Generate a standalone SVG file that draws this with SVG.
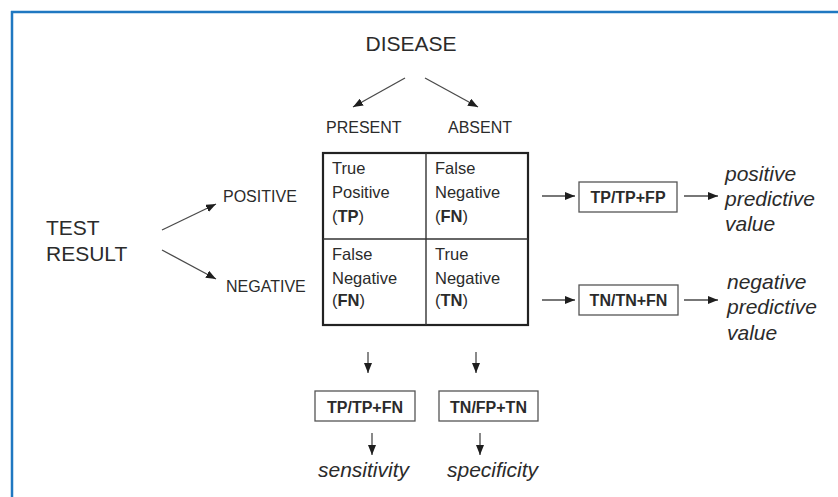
<svg xmlns="http://www.w3.org/2000/svg" width="838" height="497" viewBox="0 0 838 497">
<style>
text{font-family:"Liberation Sans",Arial,sans-serif;fill:#2b2b2b}
.h{font-size:21px}
.m{font-size:16px}
.c{font-size:16.5px}
.b{font-size:16px;font-weight:bold}
.i{font-size:21px;font-style:italic}
.ln{stroke:#4a4a4a;stroke-width:1.3;fill:none}
.box{fill:#fff;stroke:#555;stroke-width:1.3}
.grid{fill:none;stroke:#222;stroke-width:2.2}
.gl{stroke:#333;stroke-width:1.4}
</style>
<defs>
<marker id="ah" markerUnits="userSpaceOnUse" markerWidth="10" markerHeight="8" refX="10" refY="4" orient="auto">
<path d="M0,0 L10,4 L0,8 z" fill="#1e1e1e"/>
</marker>
</defs>
<rect width="838" height="497" fill="#fff"/>
<g id="frame">
<line x1="11" y1="12" x2="838" y2="12" stroke="#1f78c1" stroke-width="2.5"/>
<line x1="12" y1="11" x2="12" y2="497" stroke="#1f78c1" stroke-width="2.5"/>
</g>
<g id="connectors">
<line class="ln" x1="405" y1="78" x2="353" y2="107" marker-end="url(#ah)"/>
<line class="ln" x1="425" y1="78" x2="478" y2="107" marker-end="url(#ah)"/>
<line class="ln" x1="162" y1="230" x2="216" y2="204" marker-end="url(#ah)"/>
<line class="ln" x1="162" y1="250" x2="216" y2="279" marker-end="url(#ah)"/>
<line class="ln" x1="542" y1="196" x2="575" y2="196" marker-end="url(#ah)"/>
<line class="ln" x1="684" y1="196" x2="718" y2="196" marker-end="url(#ah)"/>
<line class="ln" x1="542" y1="300" x2="575" y2="300" marker-end="url(#ah)"/>
<line class="ln" x1="684" y1="300" x2="718" y2="300" marker-end="url(#ah)"/>
<line class="ln" x1="368" y1="352" x2="368" y2="373" marker-end="url(#ah)"/>
<line class="ln" x1="476" y1="352" x2="476" y2="373" marker-end="url(#ah)"/>
<line class="ln" x1="372" y1="433" x2="372" y2="455" marker-end="url(#ah)"/>
<line class="ln" x1="480" y1="433" x2="480" y2="455" marker-end="url(#ah)"/>
</g>
<g id="disease"><text class="h" x="411" y="51" text-anchor="middle">DISEASE</text></g>
<g id="present"><text class="m" x="326" y="133">PRESENT</text></g>
<g id="absent"><text class="m" x="448" y="133">ABSENT</text></g>
<g id="test-result">
<text class="h" x="46" y="235">TEST</text>
<text class="h" x="46" y="261">RESULT</text>
</g>
<g id="positive"><text class="m" x="223" y="202">POSITIVE</text></g>
<g id="negative"><text class="m" x="226" y="292">NEGATIVE</text></g>
<g id="matrix">
<rect class="grid" x="323" y="153" width="205" height="172"/>
<line class="gl" x1="426" y1="153" x2="426" y2="325"/>
<line class="gl" x1="323" y1="239" x2="528" y2="239"/>
<text class="c" x="332" y="174">True</text>
<text class="c" x="332" y="198">Positive</text>
<text class="c" x="332" y="222">(<tspan font-weight="bold">TP</tspan>)</text>
<text class="c" x="435" y="174">False</text>
<text class="c" x="435" y="198">Negative</text>
<text class="c" x="435" y="222">(<tspan font-weight="bold">FN</tspan>)</text>
<text class="c" x="332" y="260">False</text>
<text class="c" x="332" y="284">Negative</text>
<text class="c" x="332" y="306">(<tspan font-weight="bold">FN</tspan>)</text>
<text class="c" x="435" y="260">True</text>
<text class="c" x="435" y="284">Negative</text>
<text class="c" x="435" y="306">(<tspan font-weight="bold">TN</tspan>)</text>
</g>
<g id="ppv-formula">
<rect class="box" x="579" y="182" width="98" height="30"/>
<text class="b" x="628" y="203" text-anchor="middle">TP/TP+FP</text>
</g>
<g id="npv-formula">
<rect class="box" x="579" y="285" width="99" height="30"/>
<text class="b" x="628.5" y="306" text-anchor="middle">TN/TN+FN</text>
</g>
<g id="ppv">
<text class="i" x="725" y="181">positive</text>
<text class="i" x="725" y="206">predictive</text>
<text class="i" x="725" y="231">value</text>
</g>
<g id="npv">
<text class="i" x="727" y="289">negative</text>
<text class="i" x="727" y="314">predictive</text>
<text class="i" x="727" y="340">value</text>
</g>
<g id="sens-formula">
<rect class="box" x="315" y="391" width="100" height="30"/>
<text class="b" x="365" y="413" text-anchor="middle">TP/TP+FN</text>
</g>
<g id="spec-formula">
<rect class="box" x="439" y="391" width="99" height="30"/>
<text class="b" x="488.5" y="413" text-anchor="middle">TN/FP+TN</text>
</g>
<g id="sensitivity"><text class="i" x="318" y="477">sensitivity</text></g>
<g id="specificity"><text class="i" x="447" y="477">specificity</text></g>
</svg>
